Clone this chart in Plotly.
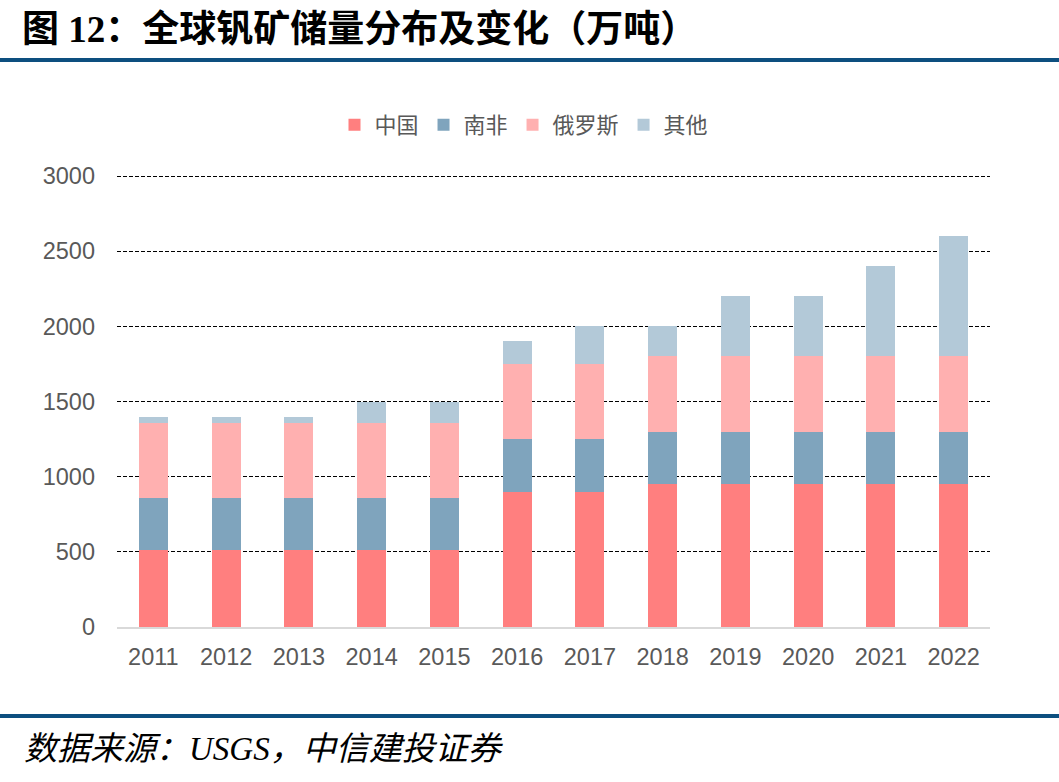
import plotly.graph_objects as go

years = ["2011","2012","2013","2014","2015","2016","2017","2018","2019","2020","2021","2022"]
china = [510,510,510,510,510,900,900,950,950,950,950,950]
south_africa = [350,350,350,350,350,350,350,350,350,350,350,350]
russia = [500,500,500,500,500,500,500,500,500,500,500,500]
others = [40,40,40,140,140,150,250,200,400,400,600,800]
series_names = ["中国","南非","俄罗斯","其他"]
colors = ["#ff7f7f","#7fa4bd","#ffb0b0","#b3c9d8"]

W, H = 1059, 782
L, R, T, B = 117, 990, 173, 627
YMAX = 3020

def px(x):
    return (x - L) / (R - L)

def py(y):
    return (B - y) / (B - T)

fig = go.Figure()
for name, vals, c in zip(series_names, [china, south_africa, russia, others], colors):
    fig.add_trace(go.Bar(x=years, y=vals, name=name, marker=dict(color=c, line=dict(width=0))))

fig.update_layout(
    width=W, height=H,
    margin=dict(l=L, r=W - R, t=T, b=H - B),
    barmode="stack", bargap=0.6,
    plot_bgcolor="white", paper_bgcolor="white",
    showlegend=True,
    legend=dict(orientation="h", x=px(524), xanchor="center", y=py(125), yanchor="middle",
                font=dict(family="Noto Sans CJK SC", size=22, color="#595959"),
                itemwidth=30, traceorder="normal"),
    xaxis=dict(tickfont=dict(family="Liberation Sans, Arial", size=23.5, color="#595959"),
               showline=True, linecolor="#d9d9d9", linewidth=2, ticks="", showgrid=False,
               ticklabelstandoff=8),
    yaxis=dict(range=[0, YMAX], tickvals=[0,500,1000,1500,2000,2500,3000],
               tickfont=dict(family="Liberation Sans, Arial", size=23.5, color="#595959"),
               showgrid=True, gridcolor="#000000", gridwidth=1, griddash="4px,2px",
               zeroline=False, showline=False, ticks="", ticklabelstandoff=21),
    shapes=[
        dict(type="line", xref="paper", yref="paper", x0=px(0), x1=px(W), y0=py(60), y1=py(60),
             line=dict(color="#0d4f7f", width=4)),
        dict(type="line", xref="paper", yref="paper", x0=px(0), x1=px(W), y0=py(716), y1=py(716),
             line=dict(color="#0d4f7f", width=4)),
    ],
    annotations=[
        dict(text="<b>图 12：全球钒矿储量分布及变化（万吨）</b>", xref="paper", yref="paper",
             x=px(20), y=py(29), xanchor="left", yanchor="middle", showarrow=False,
             font=dict(family="Liberation Serif, Noto Sans CJK SC", size=37, color="#000000")),
        dict(text="<i>数据来源：USGS，中信建投证券</i>", xref="paper", yref="paper",
             x=px(22), y=py(749), xanchor="left", yanchor="middle", showarrow=False,
             font=dict(family="Liberation Serif, Noto Sans CJK SC", size=33, color="#000000")),
    ],
)
fig.write_html("out.html")
